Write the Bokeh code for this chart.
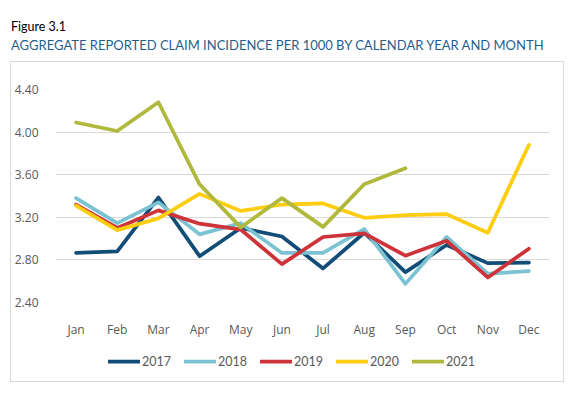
from bokeh.plotting import figure
from bokeh.models import Legend, LegendItem, FactorRange, Range1d, FixedTicker, CustomJSTickFormatter, Div
from bokeh.layouts import column
from bokeh.embed import file_html
from bokeh.resources import INLINE

months = ["Jan", "Feb", "Mar", "Apr", "May", "Jun", "Jul", "Aug", "Sep", "Oct", "Nov", "Dec"]
years = ["2017", "2018", "2019", "2020", "2021"]
y2017 = [2.865, 2.88, 3.385, 2.835, 3.10, 3.02, 2.72, 3.055, 2.685, 2.94, 2.77, 2.775]
y2018 = [3.38, 3.145, 3.34, 3.04, 3.145, 2.865, 2.865, 3.09, 2.575, 3.015, 2.67, 2.695]
y2019 = [3.32, 3.10, 3.265, 3.14, 3.085, 2.76, 3.015, 3.05, 2.84, 2.98, 2.635, 2.905]
y2020 = [3.31, 3.08, 3.19, 3.42, 3.26, 3.32, 3.33, 3.195, 3.22, 3.23, 3.055, 3.88]
y2021 = [4.09, 4.01, 4.28, 3.51, 3.105, 3.38, 3.11, 3.51, 3.66]
yticks = [2.40, 2.80, 3.20, 3.60, 4.00, 4.40]
series = [y2017, y2018, y2019, y2020, y2021]
colors = ["#114d77", "#7bc3d3", "#cf333a", "#fdcd11", "#b0b93b"]
fig_label = "Figure 3.1"
chart_title = "AGGREGATE REPORTED CLAIM INCIDENCE PER 1000 BY CALENDAR YEAR AND MONTH"

LW = 3.75

# --- titles (outside the bordered chart box)
title_html = (
    '<div style="padding:21px 0 0 11px;font-family:Lato;line-height:1;white-space:nowrap">'
    f'<div style="font-size:12.5px;color:#000000">{fig_label}</div>'
    f'<div style="font-size:13px;color:#1f5f8f;margin-top:5px">{chart_title}</div>'
    '</div>'
)
title_div = Div(text=title_html, width=566, height=61, margin=0)

# --- main chart
p = figure(width=552, height=278, output_backend="svg", toolbar_location=None, title=None,
           x_range=FactorRange(factors=months, range_padding=0),
           y_range=Range1d(2.40, 4.40),
           min_border_left=39, min_border_right=14, min_border_top=27, min_border_bottom=29)
p.outline_line_color = None
p.background_fill_color = "white"
p.border_fill_color = "white"

for yr, vals, c in zip(years, series, colors):
    p.line(months[:len(vals)], vals, line_color=c, line_width=LW,
           line_join="round", line_cap="round")

p.xgrid.grid_line_color = None
p.ygrid.grid_line_color = "#d9d9d9"
p.ygrid.grid_line_width = 1
p.yaxis.ticker = FixedTicker(ticks=yticks)
p.yaxis.formatter = CustomJSTickFormatter(code="return tick.toFixed(2);")
for ax in (p.xaxis, p.yaxis):
    ax.axis_line_color = None
    ax.major_tick_line_color = None
    ax.minor_tick_line_color = None
    ax.major_label_text_color = "#595959"
    ax.major_label_text_font = "Open Sans"
    ax.major_label_text_font_size = "12px"
p.yaxis.major_label_standoff = 11
p.xaxis.major_label_standoff = 12

# --- legend strip (same series drawn out of this strip's visible range; only the legend shows)
lf = figure(width=552, height=41, output_backend="svg", toolbar_location=None, title=None,
            x_range=Range1d(0, 1), y_range=Range1d(0, 1),
            x_axis_location=None, y_axis_location=None,
            min_border_left=0, min_border_right=0, min_border_top=0, min_border_bottom=0)
lf.outline_line_color = None
lf.xgrid.grid_line_color = None
lf.ygrid.grid_line_color = None
leg_renderers = [lf.line(list(range(len(vals))), vals, line_color=c, line_width=LW, line_cap="round")
                 for vals, c in zip(series, colors)]
legend = Legend(items=[LegendItem(label=yr, renderers=[r]) for yr, r in zip(years, leg_renderers)],
                orientation="horizontal", location=(53, 10),
                glyph_width=32, glyph_height=20, label_standoff=2, spacing=13,
                label_text_font="Lato", label_text_font_size="12.5px", label_text_color="#595959",
                border_line_color=None, background_fill_alpha=0, padding=0, margin=0)
lf.add_layout(legend, "center")

inner = column(p, lf, margin=(0, 0, 0, 10), spacing=0,
               styles={"border": "1px solid #d9d9d9"})
root = column(title_div, inner, margin=0, spacing=0)

open("out.html", "w").write(file_html(root, INLINE))
